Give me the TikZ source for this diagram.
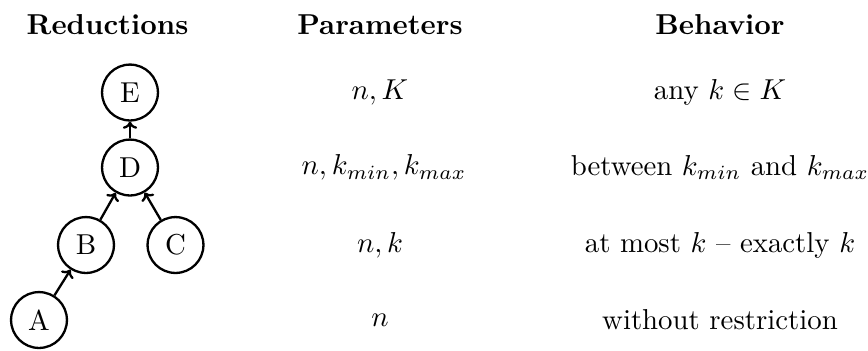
\documentclass[tikz,border=0pt]{standalone}
\usetikzlibrary{arrows.meta}
\begin{document}
\begin{tikzpicture}[x=0.3472pt,y=-0.3472pt,
  redbox/.style={draw,circle,thick,minimum size=19.4pt,inner sep=0pt},
  redarrow/.style={thick,-{To[length=2.5pt,width=5pt]}},
  head/.style={font=\bfseries,anchor=center},
  cell/.style={anchor=center}]
\useasboundingbox (0,0) rectangle (868,350);
% headers
\node[head] (h1) at (107.5,25) {Reductions};
\node[head] (h2) at (380,25) {Parameters};
\node[head] (h3) at (720,25) {Behavior};
% reduction graph
\node[redbox] (E) at (130,92.5) {E};
\node[redbox] (D) at (130,167.5) {D};
\node[redbox] (B) at (86,245) {B};
\node[redbox] (C) at (175.5,245) {C};
\node[redbox] (A) at (39,320) {A};
\draw[redarrow] (D) -- (E);
\draw[redarrow] (B) -- (D);
\draw[redarrow] (C) -- (D);
\draw[redarrow] (A) -- (B);
% parameters
\node[cell] (p1) at (380,92.5) {$n,K$};
\node[cell] (p2) at (384,167.5) {$n,k_{min},k_{max}$};
\node[cell] (p3) at (380,245) {$n,k$};
\node[cell] (p4) at (380,320) {$n$};
% behaviour
\node[cell] (b1) at (720,92.5) {any $k\in K$};
\node[cell] (b2) at (720,167.5) {between $k_{min}$ and $k_{max}$};
\node[cell] (b3) at (720,245) {at most $k$ -- exactly $k$};
\node[cell] (b4) at (720,320) {without restriction};
\end{tikzpicture}
\end{document}
